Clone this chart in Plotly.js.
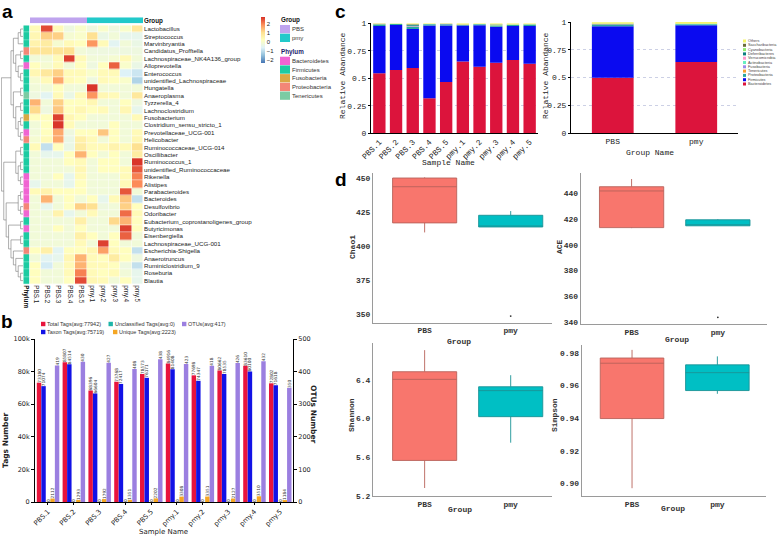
<!DOCTYPE html>
<html><head><meta charset="utf-8">
<script src="https://cdn.plot.ly/plotly-3.0.1.min.js"></script>
<style>html,body{margin:0;padding:0;background:#fff}</style>
</head><body><div id="chart" style="width:778px;height:538px"></div>
<script>
// ================= DATA =================
const samples = ['PBS.1','PBS.2','PBS.3','PBS.4','PBS.5','pmy.1','pmy.2','pmy.3','pmy.4','pmy.5'];
const sampleGroup = ['PBS','PBS','PBS','PBS','PBS','pmy','pmy','pmy','pmy','pmy'];
const groups = ['PBS','pmy'];
const groupColors = ['#BFA4EE','#22C9CA'];

// panel a
const genera = ['Lactobacillus','Streptococcus','Marvinbryantia','Candidatus_Profftella','Lachnospiraceae_NK4A136_group',
 'Alloprevotella','Enterococcus','unidentified_Lachnospiraceae','Hungatella','Anaeroplasma','Tyzzerella_4',
 'Lachnoclostridium','Fusobacterium','Clostridium_sensu_stricto_1','Prevotellaceae_UCG-001','Helicobacter',
 'Ruminococcaceae_UCG-014','Oscillibacter','Ruminococcus_1','unidentified_Ruminococcaceae','Rikenella','Alistipes',
 'Parabacteroides','Bacteroides','Desulfovibrio','Odoribacter','Eubacterium_coprostanoligenes_group','Butyricimonas',
 'Eisenbergiella','Lachnospiraceae_UCG-001','Escherichia-Shigella','Anaerotruncus','Ruminiclostridium_9','Roseburia','Blautia'];
const generaPhylum = ['Firmicutes','Firmicutes','Firmicutes','Proteobacteria','Firmicutes','Bacteroidetes','Firmicutes',
 'Firmicutes','Firmicutes','Tenericutes','Firmicutes','Firmicutes','Fusobacteria','Firmicutes','Bacteroidetes',
 'Proteobacteria','Firmicutes','Firmicutes','Firmicutes','Firmicutes','Bacteroidetes','Bacteroidetes','Bacteroidetes',
 'Bacteroidetes','Proteobacteria','Bacteroidetes','Firmicutes','Bacteroidetes','Firmicutes','Firmicutes',
 'Proteobacteria','Firmicutes','Firmicutes','Firmicutes','Firmicutes'];
const phylaA = ['Bacteroidetes','Firmicutes','Fusobacteria','Proteobacteria','Tenericutes'];
const phylaAColors = ['#F064D2','#1CCBA2','#D9A844','#F38677','#7CCBA3'];
const heatZ = [
 [0.3,2.5,0.3,-0.3,0.0,-0.3,0.0,-0.3,0.0,0.8],
 [0.4,1.2,1.2,-0.1,0.0,1.0,-0.4,-0.2,-0.5,-0.5],
 [0.5,0.7,-0.1,0.3,0.2,1.8,0.3,-0.6,-0.2,-0.4],
 [0.9,0.9,0.9,1.0,-0.2,-0.3,-0.3,-0.3,-0.3,-0.3],
 [-0.2,-0.2,0.3,2.6,0.3,-0.2,-0.2,-0.1,0.3,-0.2],
 [0.2,-0.1,0.3,-0.2,0.2,-0.3,0.2,2.3,0.0,-0.4],
 [0.4,0.8,1.2,0.3,0.3,0.0,0.3,0.3,-0.7,-0.9],
 [-0.1,0.3,1.6,0.3,0.2,-0.3,0.3,0.2,0.0,-1.2],
 [-0.2,-0.2,0.2,-0.2,-0.2,2.7,-0.2,-0.2,-0.2,-0.2],
 [-0.3,-0.6,0.3,-0.4,0.3,1.8,0.4,0.3,-0.2,0.8],
 [1.5,-0.2,1.2,0.2,0.2,0.4,-0.2,-0.2,0.2,-0.3],
 [1.1,-0.3,1.3,0.2,0.4,0.2,0.3,-0.2,0.4,-0.5],
 [0.2,0.2,2.6,0.4,0.2,-0.2,-0.2,-0.2,-0.2,0.3],
 [-0.2,0.2,2.7,0.3,-0.2,-0.2,-0.2,0.2,-0.2,-0.2],
 [-0.2,0.2,1.6,-0.3,0.2,0.2,1.3,0.2,-0.2,0.3],
 [-0.1,0.3,1.6,-0.4,0.6,0.3,-0.2,0.2,-0.2,0.4],
 [0.3,-1.0,0.2,-0.4,0.7,0.3,0.3,0.5,0.3,1.0],
 [-0.2,-0.5,-0.5,0.2,1.5,0.2,-0.2,0.2,-0.2,0.7],
 [-0.2,-0.2,-0.2,0.2,0.3,-0.2,0.2,0.2,-0.2,2.7],
 [-0.2,-0.2,-0.2,-0.2,0.4,-0.2,0.2,0.2,0.3,2.4],
 [-0.2,-0.2,0.2,-0.5,0.3,-0.2,-0.2,-0.2,0.3,2.0],
 [-0.5,-0.2,-0.2,-0.5,0.2,-0.2,-0.2,-0.2,0.3,1.9],
 [0.3,0.5,0.2,0.2,0.2,-0.2,-0.2,-0.2,2.4,-0.2],
 [-0.2,1.5,-0.2,0.2,-0.2,0.2,-0.5,0.3,1.3,-1.0],
 [-0.2,-0.5,-0.2,0.2,1.2,1.0,-0.3,-0.2,1.2,0.2],
 [-0.2,-0.2,0.5,-0.5,-0.2,0.3,-0.2,-0.2,2.2,0.3],
 [-0.2,-0.2,-0.2,-0.2,0.6,-0.2,-0.2,1.1,1.5,0.2],
 [-0.2,-0.2,0.2,-0.2,0.2,-0.2,-0.2,-0.2,2.6,0.2],
 [-0.2,-0.2,-0.2,-0.2,0.6,0.2,-0.2,0.2,2.3,-0.2],
 [-0.2,-0.2,-0.2,-0.2,0.3,-0.2,2.6,0.2,-0.2,-0.2],
 [0.2,0.6,-0.6,0.2,0.2,0.4,1.7,0.3,0.2,-1.0],
 [-0.2,-0.6,-0.5,0.4,1.5,0.3,0.2,0.7,0.2,-0.3],
 [0.2,-0.8,-0.2,0.3,1.5,0.3,0.3,0.2,-0.3,-1.0],
 [0.2,-0.2,-0.2,0.3,2.0,0.3,0.2,0.3,-0.2,-0.5],
 [0.2,-0.2,-0.2,0.2,2.5,0.4,0.3,-0.2,0.2,-0.5]
];
const dendroTree = [
 [ [[[0,1],2],[[3,4],[5,[6,7]]]], [[8,9],[[10,11],[[12,13],[14,15]]]] ],
 [ [[16,17],[[18,19],[20,21]]], [[[22,23],[24,25]],[[26,27],[[28,29],[30,[31,[32,[33,34]]]]]]] ]
];
const heatTicks = [-2,-1,0,1,2];

// panel b
const bNames = ['Total Tags(avg:77942)','Taxon Tags(avg:75719)','Unclassified Tags(avg:0)','Unique Tags(avg:2223)','OTUs(avg:417)'];
const bColors = ['#E8143C','#1212E6','#1FB5A8','#F5A623','#9B7FE0'];
const bTotal  = [73180,85807,68396,73768,78573,84916,77698,80662,83610,72802];
const bTaxon  = [71074,84514,66604,72417,76171,81408,74347,78535,80100,71618];
const bUncl   = [0,0,0,0,0,0,0,0,0,0];
const bUnique = [2112,1293,1792,1351,2202,3308,3351,2127,3510,1184];
const bOtus   = [419,430,427,408,438,423,418,426,432,350];

// panel c
const cPhyla = ['Bacteroidetes','Firmicutes','Proteobacteria','Tenericutes','Fusobacteria','Actinobacteria',
 'Verrucomicrobia','Deferribacteres','Cyanobacteria','Saccharibacteria','Others'];
const cColors = ['#DC143C','#0A0AF0','#2AA6A0','#F7A030','#9C8BE8','#66F0C0','#FF99CC','#0B7F7F','#90EE70','#6B6B3A','#F5F56A'];
const cBact = [0.545,0.576,0.594,0.318,0.467,0.652,0.606,0.642,0.667,0.633];
const cFirm = [0.431,0.409,0.354,0.661,0.512,0.327,0.376,0.327,0.309,0.343];
const cProt = [0.011,0.008,0.020,0.010,0.009,0.006,0.007,0.012,0.008,0.010];
const cTene = [0.002,0.001,0.004,0.001,0.002,0.001,0.001,0.002,0.001,0.001];
const cFuso = [0.001,0.000,0.003,0.000,0.001,0.000,0.000,0.000,0.000,0.000];
const cActi = [0.001,0.001,0.002,0.001,0.001,0.001,0.001,0.001,0.001,0.001];
const cVerr = [0.000,0.000,0.001,0.000,0.000,0.000,0.000,0.001,0.000,0.000];
const cDefe = [0.003,0.002,0.008,0.002,0.002,0.002,0.002,0.004,0.002,0.003];
const cCyan = [0.000,0.000,0.001,0.000,0.000,0.000,0.000,0.000,0.000,0.000];
const cSacc = [0.001,0.000,0.005,0.000,0.001,0.000,0.000,0.001,0.000,0.000];
const cOthe = [0.005,0.003,0.008,0.007,0.005,0.011,0.007,0.010,0.012,0.009];
const gBact = [0.498,0.639];
const gFirm = [0.463,0.331];
const gProt = [0.015,0.009];
const gTene = [0.002,0.001];
const gFuso = [0.001,0.000];
const gActi = [0.001,0.001];
const gVerr = [0.000,0.000];
const gDefe = [0.004,0.003];
const gCyan = [0.000,0.000];
const gSacc = [0.001,0.000];
const gOthe = [0.013,0.016];

// panel d
const chaoPBS = [410,417,443.6,450,450.5];
const chaoPmy = [348.5,414,414.3,422.6,425.7];
const acePBS  = [413,413.4,442,445.3,451.3];
const acePmy  = [343.4,414.8,415.5,419.5,420];
const shanPBS = [5.28,5.566,6.407,6.486,6.71];
const shanPmy = [5.75,6.02,6.29,6.33,6.45];
const simpPBS = [0.897,0.9398,0.9738,0.977,0.982];
const simpPmy = [0.955,0.957,0.968,0.9728,0.978];
const boxFill = ['#F8766D','#00BFC4'];
const boxLine = ['#B8625A','#1A9396'];

// ================= DRAW =================
const W = 778, H = 538;
const X = v => v / W, Y = v => 1 - v / H;
const sans = 'Liberation Sans', mono = 'Liberation Mono', dv = 'DejaVu Sans';
const traces = [], shapes = [], anns = [];

function ann(text, x, y, o) {
  anns.push(Object.assign({text, x: X(x), y: Y(y), xref: 'paper', yref: 'paper', showarrow: false,
    xanchor: 'center', yanchor: 'middle', borderpad: 0, font: {family: sans, size: 6, color: '#111'}}, o || {}));
}
function rect(x0, y0, x1, y1, color) {
  shapes.push({type: 'rect', xref: 'paper', yref: 'paper', x0: X(x0), x1: X(x1), y0: Y(y1), y1: Y(y0),
    fillcolor: color, line: {width: 0}, layer: 'above'});
}

// ---- panel a ----
const segX = [], segY = [];
function walk(node) {
  if (typeof node === 'number') return {y: node, h: 0};
  const kids = node.map(walk);
  const h = Math.max(...kids.map(k => k.h)) + 1;
  kids.forEach(k => { segX.push(k.h, h, null); segY.push(k.y, k.y, null); });
  const ys = kids.map(k => k.y);
  segX.push(h, h, null); segY.push(Math.min(...ys), Math.max(...ys), null);
  return {y: ys.reduce((a, b) => a + b) / ys.length, h};
}
const root = walk(dendroTree);
traces.push({type: 'scatter', mode: 'lines', x: segX, y: segY, xaxis: 'x4', yaxis: 'y5',
  line: {color: '#777', width: 0.6}, hoverinfo: 'skip', showlegend: false});

traces.push({type: 'heatmap', x: samples, y: genera, z: heatZ, xaxis: 'x', yaxis: 'y',
  zmin: -2.4, zmax: 2.75, xgap: 0.5, ygap: 0.5,
  colorscale: [[0, '#4575B4'], [1/6, '#91BFDB'], [2/6, '#E0F3F8'], [0.5, '#FFFFBF'], [4/6, '#FEE090'], [5/6, '#FC8D59'], [1, '#D73027']],
  colorbar: {x: X(260.5), xanchor: 'left', y: Y(17), yanchor: 'top', len: 46 / H, lenmode: 'fraction',
    thickness: 3.5, thicknessmode: 'pixels', tickvals: heatTicks, ticktext: heatTicks.map(v => v < 0 ? '\u2212' + (-v) : String(v)),
    tickfont: {family: sans, size: 6, color: '#222'}, outlinewidth: 0, ticks: '', xpad: 0, ypad: 0},
  hoverinfo: 'skip'});

traces.push({type: 'heatmap', x: samples, y: ['Group'], z: [sampleGroup.map(g => groups.indexOf(g))],
  xaxis: 'x', yaxis: 'y2', zmin: 0, zmax: 1, showscale: false, hoverinfo: 'skip',
  colorscale: [[0, groupColors[0]], [0.5, groupColors[0]], [0.5, groupColors[1]], [1, groupColors[1]]]});

const phScale = [];
phylaAColors.forEach((c, i) => { phScale.push([i / 5, c], [(i + 1) / 5, c]); });
traces.push({type: 'heatmap', x: ['Phylum'], y: genera, z: generaPhylum.map(p => [phylaA.indexOf(p) + 0.5]),
  xaxis: 'x3', yaxis: 'y', zmin: 0, zmax: 5, showscale: false, hoverinfo: 'skip', ygap: 0.3, colorscale: phScale});

// group/phylum legend
ann('<b>Group</b>', 280, 20.5, {xanchor: 'left', font: {family: sans, size: 6.3, color: '#111'}});
groups.forEach((g, i) => { rect(280, 25 + i * 8.7, 290, 33.3 + i * 8.7, groupColors[i]);
  ann(g, 291, 29.2 + i * 8.7, {xanchor: 'left', font: {family: sans, size: 6, color: '#333'}}); });
ann('<b>Phylum</b>', 280, 52, {xanchor: 'left', font: {family: sans, size: 6.3, color: '#1a1a6a'}});
phylaA.forEach((p, i) => { rect(280, 56.7 + i * 8.7, 290, 65 + i * 8.7, phylaAColors[i]);
  ann(p, 291, 61 + i * 8.7, {xanchor: 'left', font: {family: sans, size: 6, color: '#333'}}); });

// ---- panel b ----
const bSeries = [bTotal, bTaxon, bUncl, bUnique, bOtus];
const bOffsets = [-0.43, -0.255, -0.08, 0.095, 0.27];
bSeries.forEach((s, i) => {
  traces.push({type: 'bar', x: samples, y: s, xaxis: 'x5', yaxis: i === 4 ? 'y7' : 'y6', name: bNames[i],
    marker: {color: bColors[i], line: {width: 0}}, width: 0.172, offset: bOffsets[i],
    text: s.map(String), textposition: 'outside', textangle: -90, constraintext: 'none', cliponaxis: false,
    textfont: {family: dv, size: 4.3, color: '#333'}, showlegend: false, hoverinfo: 'skip'});
});
const bLegPos = [[41, 324], [41, 332], [108.5, 324], [113, 332], [182, 324]];
bNames.forEach((n, i) => {
  const [lx, ly] = bLegPos[i];
  rect(lx, ly - 2.2, lx + 4.4, ly + 2.2, bColors[i]);
  ann(n, lx + 5.3, ly, {xanchor: 'left', font: {family: sans, size: 5.5, color: '#333'}});
});

// ---- panel c ----
const cSeries = [cBact, cFirm, cProt, cTene, cFuso, cActi, cVerr, cDefe, cCyan, cSacc, cOthe];
const gSeries = [gBact, gFirm, gProt, gTene, gFuso, gActi, gVerr, gDefe, gCyan, gSacc, gOthe];
let cBase = samples.map(() => 0), gBase = groups.map(() => 0);
cSeries.forEach((s, k) => {
  traces.push({type: 'bar', x: samples, y: s, base: cBase.slice(), xaxis: 'x6', yaxis: 'y8', name: cPhyla[k],
    width: 0.74, marker: {color: cColors[k], line: {width: 0}}, showlegend: false, hoverinfo: 'skip'});
  cBase = cBase.map((b, i) => b + s[i]);
  const g = gSeries[k];
  traces.push({type: 'bar', x: groups, y: g, base: gBase.slice(), xaxis: 'x7', yaxis: 'y9', name: cPhyla[k],
    width: 0.5, marker: {color: cColors[k], line: {width: 0}}, showlegend: false, hoverinfo: 'skip'});
  gBase = gBase.map((b, i) => b + g[i]);
});
// c right legend (top: Others ... bottom: Bacteroidetes)
cPhyla.slice().reverse().forEach((p, j) => {
  const k = cPhyla.length - 1 - j, yy = 41 + j * 4.3;
  rect(743, yy - 1.5, 746, yy + 1.5, cColors[k]);
  ann(p, 746.8, yy, {xanchor: 'left', font: {family: sans, size: 3.8, color: '#444'}});
});

// ---- panel d ----
const dSets = [[chaoPBS, chaoPmy, 'x8', 'y10'], [acePBS, acePmy, 'x9', 'y11'],
               [shanPBS, shanPmy, 'x10', 'y12'], [simpPBS, simpPmy, 'x11', 'y13']];
dSets.forEach(([a, b, xa, ya]) => {
  [a, b].forEach((vals, gi) => {
    traces.push({type: 'box', x0: groups[gi], y: vals, xaxis: xa, yaxis: ya, name: groups[gi],
      fillcolor: boxFill[gi], line: {color: boxLine[gi], width: 0.9}, width: 0.745, whiskerwidth: 0,
      boxpoints: 'outliers', quartilemethod: 'inclusive', marker: {size: 1.8, color: '#333'},
      showlegend: false, hoverinfo: 'skip'});
  });
});

// ---- titles / labels ----
const letterFont = {family: sans, size: 19, color: '#000'};
ann('<b>a</b>', 1, 0, {xanchor: 'left', yanchor: 'top', font: letterFont});
ann('<b>b</b>', 0, 321, {xanchor: 'left', font: letterFont});
ann('<b>c</b>', 334, 0, {xanchor: 'left', yanchor: 'top', font: letterFont});
ann('<b>d</b>', 334, 180, {xanchor: 'left', font: letterFont});

ann('<b>Tags Number</b>', 5, 440, {textangle: -90, font: {family: dv, size: 7.5, color: '#222'}});
ann('<b>OTUs Number</b>', 314, 414, {textangle: 90, font: {family: dv, size: 7.5, color: '#222'}});
ann('Sample Name', 163, 532, {font: {family: dv, size: 7, color: '#222'}});

ann('Relative Abandance', 342, 76, {textangle: -90, font: {family: mono, size: 8, color: '#222'}});
ann('Sample Name', 448, 163, {font: {family: mono, size: 8, color: '#222'}});
ann('Relative Abandance', 545, 76, {textangle: -90, font: {family: mono, size: 8, color: '#222'}});
ann('Group Name', 650, 153, {font: {family: mono, size: 8, color: '#222'}});

const dMono = {family: mono, size: 8, color: '#333', weight: 'bold'};
ann('Chao1', 352, 247, {textangle: -90, font: dMono});
ann('ACE', 559, 247, {textangle: -90, font: dMono});
ann('Shannon', 351, 415, {textangle: -90, font: dMono});
ann('Simpson', 554, 415, {textangle: -90, font: dMono});
ann('Group', 459, 341, {font: dMono});
ann('Group', 677, 339, {font: dMono});
ann('Group', 460, 509, {font: dMono});
ann('Group', 673, 508, {font: dMono});

// ================= LAYOUT =================
const noAx = {showgrid: false, zeroline: false};
const heatDom = [Y(284.3), Y(25.3)];
const cAxisX = {type: 'category', tickangle: -45, tickfont: {family: mono, size: 8, color: '#222'},
  showline: true, linecolor: '#000', linewidth: 1, ticks: '', showgrid: false, zeroline: false};
const cAxisY = {range: [0, 1], dtick: 0.25, showgrid: true, gridcolor: '#BFC4DE', griddash: 'dot', gridwidth: 0.8,
  showline: true, linecolor: '#000', linewidth: 1, ticks: 'outside', ticklen: 2, tickcolor: '#000',
  tickfont: {family: mono, size: 8, color: '#222'}, zeroline: false};
const dAxisX = {type: 'category', categoryorder: 'array', categoryarray: groups, showline: true, linecolor: '#9a9a9a',
  linewidth: 1, ticks: '', tickfont: dMono, showgrid: false, zeroline: false};
const dAxisY = {showline: true, linecolor: '#9a9a9a', linewidth: 1, ticks: '', tickfont: dMono, showgrid: false, zeroline: false};

const layout = {
  width: W, height: H, margin: {l: 0, r: 0, t: 0, b: 0, pad: 0},
  paper_bgcolor: '#fff', plot_bgcolor: 'rgba(0,0,0,0)', showlegend: false, barmode: 'overlay',
  font: {family: sans, size: 6, color: '#222'},
  // a
  xaxis: Object.assign({domain: [X(30), X(143)], anchor: 'y', type: 'category', tickangle: 90, ticks: '',
    tickmode: 'array', tickvals: samples, ticktext: samples,
    tickfont: {family: sans, size: 6.3, color: '#222'}}, noAx),
  yaxis: Object.assign({domain: heatDom, anchor: 'x', type: 'category', autorange: 'reversed', side: 'right', ticks: '',
    tickmode: 'array', tickvals: genera, ticktext: genera,
    tickfont: {family: sans, size: 6.2, color: '#222'}}, noAx),
  yaxis2: Object.assign({domain: [Y(23.3), Y(17.3)], anchor: 'x', type: 'category', side: 'right', ticks: '',
    tickfont: {family: sans, size: 6.3, color: '#111', weight: 'bold'}}, noAx),
  xaxis3: Object.assign({domain: [X(23.3), X(29.6)], anchor: 'y', type: 'category', tickangle: 90, ticks: '',
    tickfont: {family: sans, size: 6.3, color: '#111', weight: 'bold'}}, noAx),
  xaxis4: {domain: [X(1), X(23)], anchor: 'y5', range: [root.h + 0.15, 0], visible: false},
  yaxis5: {domain: heatDom, anchor: 'x4', range: [34.5, -0.5], visible: false},
  // b
  xaxis5: {domain: [X(35), X(293)], anchor: 'y6', type: 'category', range: [-0.5, 9.5], tickangle: -45,
    tickfont: {family: dv, size: 6.8, color: '#222'}, showline: true, linecolor: '#000', linewidth: 1,
    ticks: 'outside', ticklen: 2, tickcolor: '#000', showgrid: false, zeroline: false},
  yaxis6: {domain: [Y(502), Y(339)], anchor: 'x5', range: [0, 100000], dtick: 20000, showline: true, linecolor: '#000',
    linewidth: 1, ticks: 'outside', ticklen: 3, tickcolor: '#000', tickfont: {family: dv, size: 6.5, color: '#222'},
    showgrid: false, zeroline: false},
  yaxis7: {overlaying: 'y6', anchor: 'x5', side: 'right', range: [0, 500], dtick: 100, showline: true, linecolor: '#000',
    linewidth: 1, ticks: 'outside', ticklen: 3, tickcolor: '#000', tickfont: {family: dv, size: 6.5, color: '#222'},
    showgrid: false, zeroline: false},
  // c
  xaxis6: Object.assign({domain: [X(371), X(538)], anchor: 'y8', range: [-0.5, 9.5]}, cAxisX),
  yaxis8: Object.assign({domain: [Y(133.3), Y(23.3)], anchor: 'x6'}, cAxisY),
  xaxis7: Object.assign({}, cAxisX, {domain: [X(571), X(738)], anchor: 'y9', range: [-0.5, 1.5], tickangle: 0}),
  yaxis9: Object.assign({domain: [Y(133), Y(22)], anchor: 'x7'}, cAxisY),
  // d
  xaxis8: Object.assign({domain: [X(373), X(552)], anchor: 'y10', range: [-0.6, 1.48]}, dAxisX),
  yaxis10: Object.assign({domain: [Y(322.7), Y(173)], anchor: 'x8', range: [343.6, 453.7], dtick: 25, tick0: 350}, dAxisY),
  xaxis9: Object.assign({domain: [X(580.7), X(767)], anchor: 'y11', range: [-0.59, 1.57]}, dAxisX),
  yaxis11: Object.assign({domain: [Y(324), Y(173)], anchor: 'x9', range: [338.2, 456], dtick: 20, tick0: 340}, dAxisY),
  xaxis10: Object.assign({domain: [X(373), X(552)], anchor: 'y12', range: [-0.6, 1.48]}, dAxisX),
  yaxis12: Object.assign({domain: [Y(496), Y(343)], anchor: 'x10', range: [5.197, 6.784], dtick: 0.4, tick0: 5.2, tickformat: '.1f'}, dAxisY),
  xaxis11: Object.assign({domain: [X(581.7), X(766)], anchor: 'y13', range: [-0.59, 1.57]}, dAxisX),
  yaxis13: Object.assign({domain: [Y(496), Y(345)], anchor: 'x11', range: [0.8922, 0.985], dtick: 0.02, tick0: 0.9, tickformat: '.2f'}, dAxisY),
  shapes: shapes, annotations: anns
};

Plotly.newPlot('chart', traces, layout, {displayModeBar: false, staticPlot: true});
</script>
</body></html>
